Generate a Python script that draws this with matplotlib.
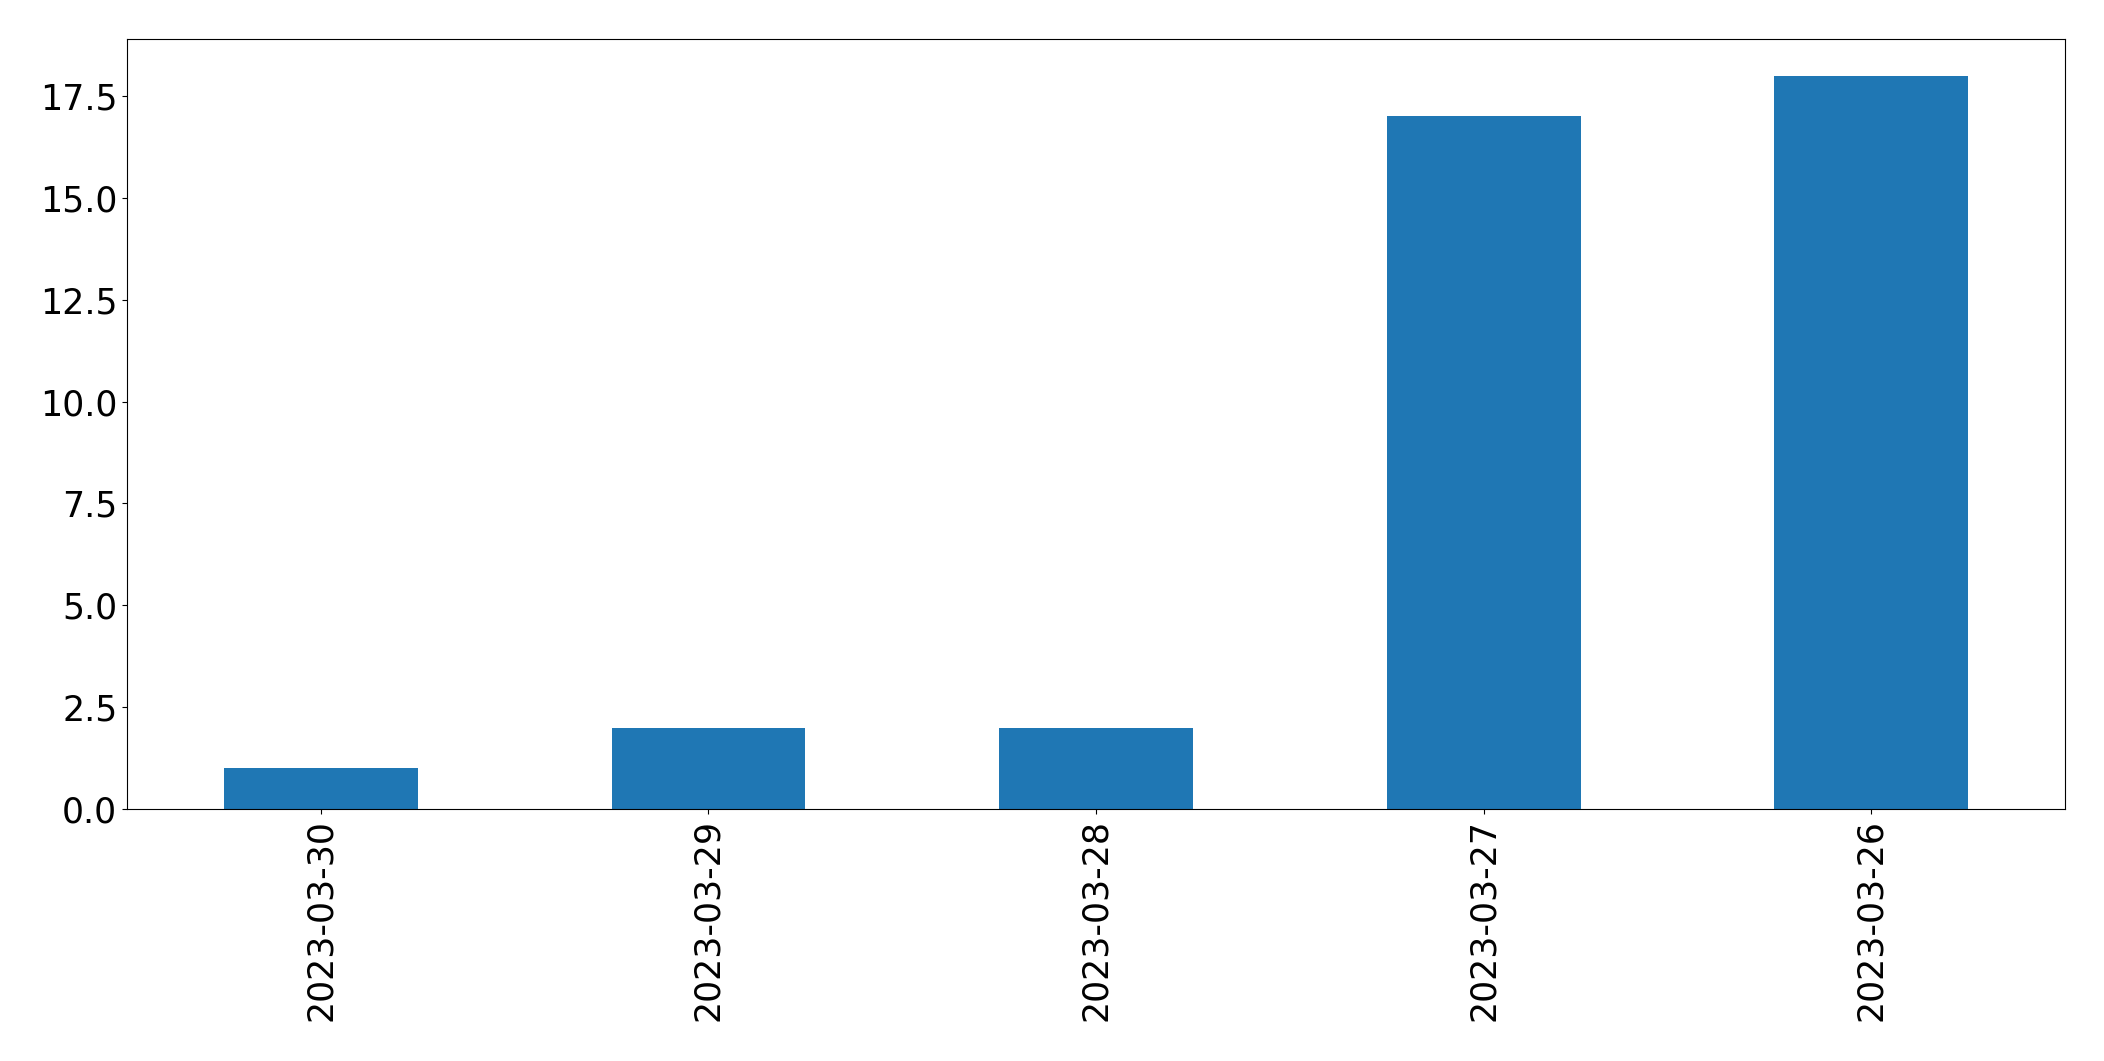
import matplotlib
matplotlib.use("Agg")
import matplotlib.pyplot as plt
import numpy as np

dates = ["2023-03-30", "2023-03-29", "2023-03-28", "2023-03-27", "2023-03-26"]
counts = [1, 2, 2, 17, 18]

fig = plt.figure(figsize=(21.04, 10.61), dpi=100)
ax = fig.add_axes([127 / 2104, 1 - 809 / 1061, (2065 - 127) / 2104, (809 - 39) / 1061])

x = np.arange(len(dates))
ax.bar(x, counts, width=0.5, color="#1f77b4")
ax.set_xlim(-0.5, len(dates) - 0.5)
ax.set_xticks(x)
ax.set_xticklabels(dates, rotation=90)
ax.tick_params(labelsize=25)

fig.savefig("out.png", dpi=100)
